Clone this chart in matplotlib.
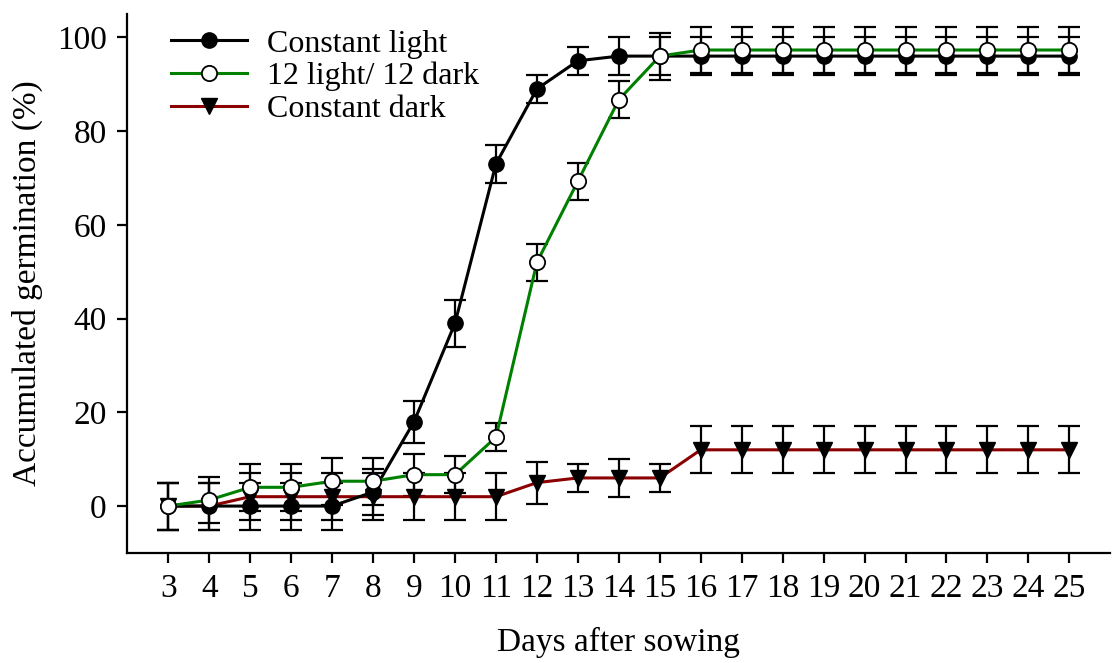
import numpy as np
import matplotlib.pyplot as plt

plt.rcParams['font.family'] = ['Liberation Serif', 'DejaVu Serif']

days = list(range(3, 26))

light = [0, 0, 0, 0, 0, 3, 18, 39, 73, 89, 95, 96, 96] + [96] * 10
light_err = [5, 5, 5, 5, 5, 5, 4.5, 5, 4, 3, 3, 4, 4] + [4] * 10

cycle = [0, 1.3, 4, 4, 5.3, 5.3, 6.7, 6.7, 14.7, 52, 69.3, 86.7, 96] + [97.3] * 10
cycle_err = [5, 5, 5, 5, 5, 5, 4.5, 4, 3, 4, 4, 4, 5] + [5] * 10

dark = [0, 0, 2, 2, 2, 2, 2, 2, 2, 5, 6, 6, 6] + [12] * 10
dark_err = [5, 5, 5, 5, 5, 5, 5, 5, 5, 4.5, 3, 4, 3] + [5] * 10

fig = plt.figure(figsize=(11.17, 6.63), dpi=100)
ax = fig.add_axes([0.114, 0.166, 0.88, 0.813])

# error bars first, then the lines on top
for y, e in [(dark, dark_err), (cycle, cycle_err), (light, light_err)]:
    ax.errorbar(days, y, yerr=e, fmt='none', ecolor='black', elinewidth=1.6,
                capsize=8, capthick=1.6, zorder=2)

ax.plot(days, dark, color='#8b0000', lw=2.2, marker='v', ms=11, mfc='black',
        mec='black', label='Constant dark', zorder=3)
ax.plot(days, cycle, color='#008000', lw=2.2, marker='o', ms=11, mfc='white',
        mec='black', mew=1.3, label='12 light/ 12 dark', zorder=4)
ax.plot(days, light, color='black', lw=2.2, marker='o', ms=11, mfc='black',
        mec='black', label='Constant light', zorder=3)

ax.set_xlim(2, 26)
ax.set_ylim(-10, 105)
ax.set_xticks(days)
ax.set_yticks([0, 20, 40, 60, 80, 100])
ax.spines['top'].set_visible(False)
ax.spines['right'].set_visible(False)
ax.spines['left'].set_linewidth(1.6)
ax.spines['bottom'].set_linewidth(1.6)
ax.tick_params(direction='out', length=7, width=1.6, labelsize=24, pad=8)

ax.set_xlabel('Days after sowing', fontsize=24, labelpad=16)
ax.set_ylabel('Accumulated germination (%)', fontsize=24, labelpad=10)

h, l = ax.get_legend_handles_labels()
order = [2, 1, 0]
ax.legend([h[i] for i in order], [l[i] for i in order], loc='upper left',
          bbox_to_anchor=(0.015, 1.025), frameon=False, fontsize=23,
          handlelength=2.4, labelspacing=0.1, handletextpad=0.6)

fig.savefig('out.png', dpi=100)
